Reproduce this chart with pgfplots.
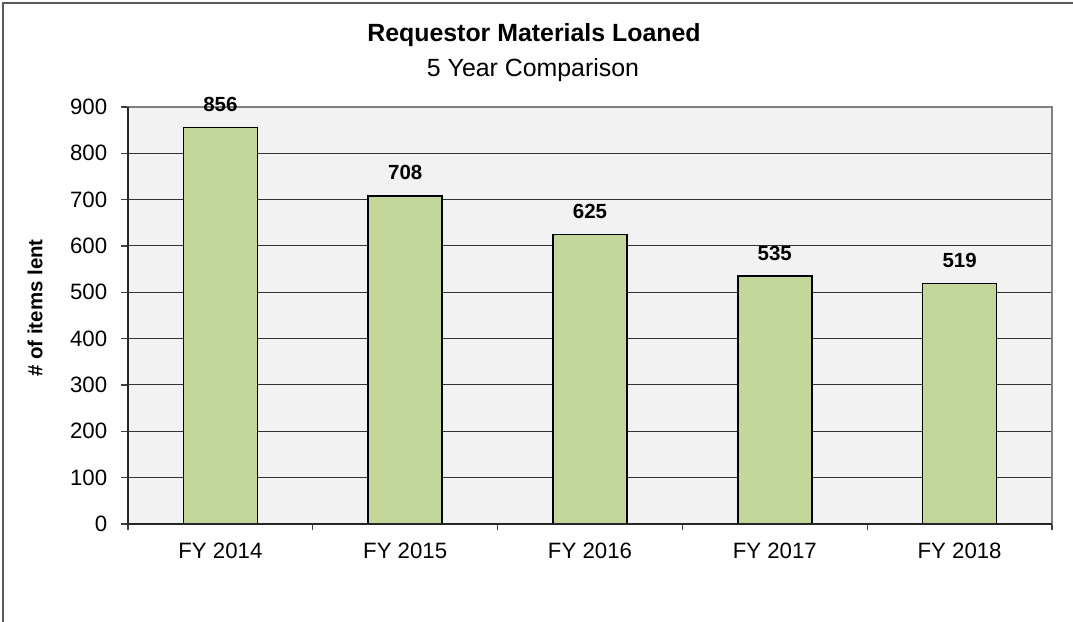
\documentclass[border=0pt]{standalone}
\usepackage{fontspec}
\setmainfont{Liberation Sans}
\usepackage{pgfplots}
\pgfplotsset{compat=1.18}
\definecolor{barfill}{HTML}{C4D79B}
\definecolor{plotbg}{HTML}{F2F2F2}
\definecolor{frameg}{HTML}{808080}
\definecolor{outerb}{HTML}{5A5A5A}
\begin{document}
\begin{tikzpicture}
\useasboundingbox (0,0) rectangle (482.85pt,279.9pt);
\draw[outerb, line width=0.6pt] (1.35pt,0) -- (1.35pt,278.55pt) -- (482.85pt,278.55pt);
\node[font=\fontsize{11.2}{13}\selectfont\bfseries, anchor=base] at (240.3pt,261.0pt) {Requestor Materials Loaned};
\node[font=\fontsize{11.2}{13}\selectfont, anchor=base] at (239.85pt,245.25pt) {5 Year Comparison};
\node[font=\fontsize{9.2}{11}\selectfont\bfseries, rotate=90] at (15.75pt,141.3pt) {\# of items lent};
\begin{axis}[
  at={(57.6pt,44.1pt)}, anchor=south west,
  scale only axis, width=415.8pt, height=187.65pt,
  xmin=-0.5, xmax=4.5, ymin=0, ymax=900,
  ytick={0,100,...,900},
  xtick={0,1,2,3,4},
  xticklabels={FY 2014,FY 2015,FY 2016,FY 2017,FY 2018},
  minor xtick={-0.5,0.5,...,4.5},
  major x tick style={draw=none},
  minor x tick style={draw=black!75, line width=0.5pt},
  major y tick style={draw=black!75, line width=0.5pt},
  minor tick length=2.7pt,
  major tick length=3.15pt,
  tick align=outside,
  xtick pos=bottom, ytick pos=left,
  ymajorgrids,
  major grid style={draw=black!80, line width=0.45pt},
  axis background/.style={fill=plotbg},
  axis line style={draw=frameg, line width=0.9pt},
  /pgf/number format/assume math mode=true,
  tick label style={font=\fontsize{10}{12}\selectfont},
  yticklabel style={anchor=east, xshift=-2.7pt},
  xticklabel style={anchor=base, yshift=-12.3pt},
  ybar, bar width=33.3pt,
  nodes near coords,
  every node near coord/.append style={font=\fontsize{9.2}{11}\selectfont\bfseries, anchor=south, inner sep=0pt, yshift=6.75pt},
  clip=false,
]
\addplot[fill=barfill, draw=black, line width=0.7pt] coordinates {(0,856) (1,708) (2,625) (3,535) (4,519)};
\draw[black!85, line width=0.9pt] (rel axis cs:0,1) -- (rel axis cs:0,0) -- (rel axis cs:1,0);
\end{axis}
\end{tikzpicture}
\end{document}
